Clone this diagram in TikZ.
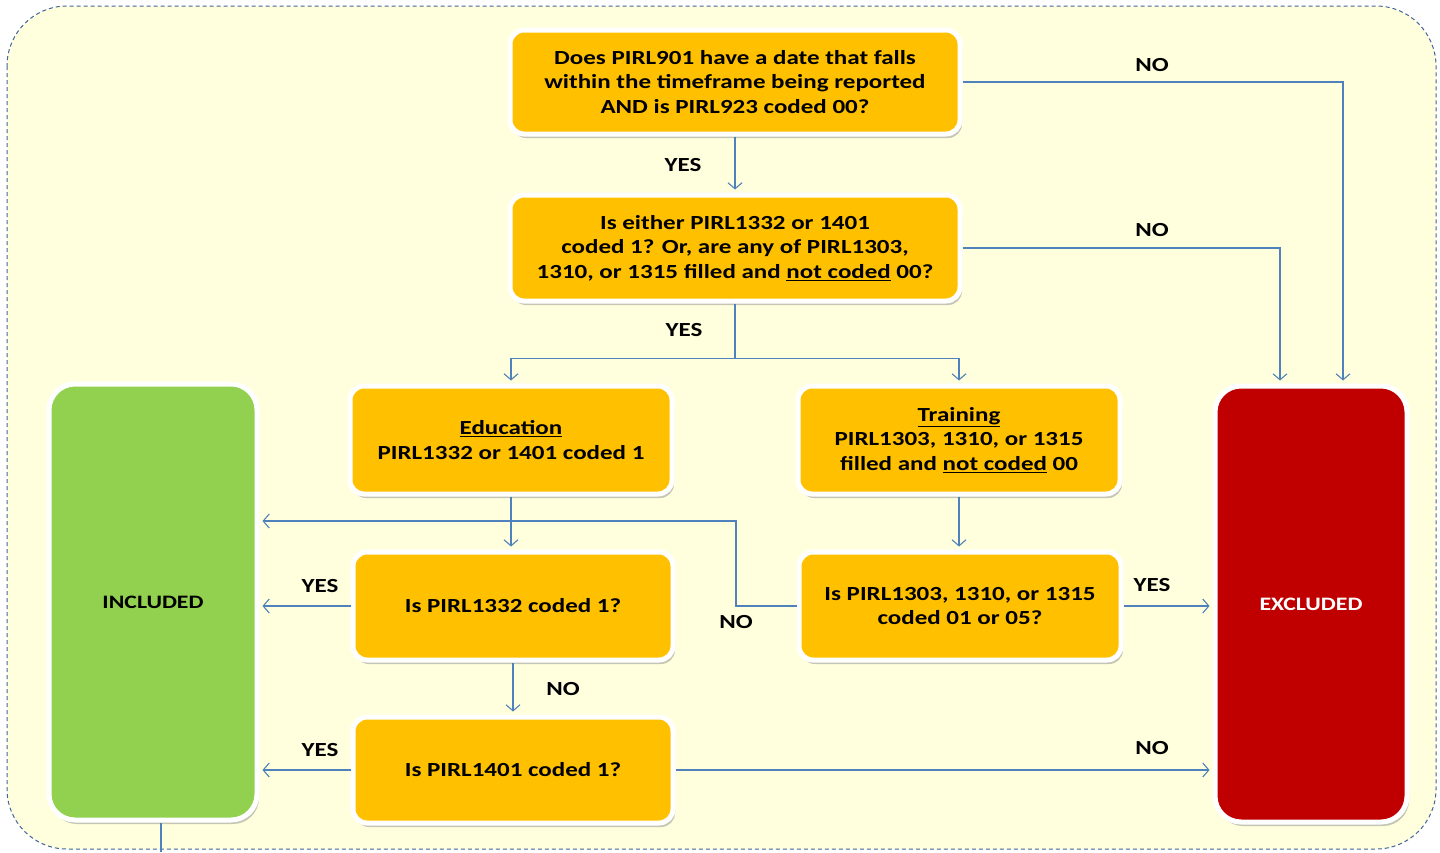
\documentclass[tikz,border=0pt]{standalone}
\usepackage{fontspec}
\setmainfont{Carlito}[FakeStretch=1.25]
\usetikzlibrary{arrows.meta,shadows}
\definecolor{bgyellow}{HTML}{FFFFDD}
\definecolor{frameblue}{HTML}{41649B}
\definecolor{flowblue}{HTML}{4F81BD}
\definecolor{qorange}{HTML}{FFC000}
\definecolor{incgreen}{HTML}{92D050}
\definecolor{excred}{HTML}{C00000}
\begin{document}
\begin{tikzpicture}[x=1pt, y=-1pt,
  qbox/.style={draw=white, line width=5pt, fill=qorange, rounded corners=14pt,
    inner sep=0pt, align=center, font=\bfseries\fontsize{20}{24.5}\selectfont,
    drop shadow={opacity=0.45, shadow xshift=2pt, shadow yshift=-4pt}},
  endbox/.style={qbox, rounded corners=26pt, minimum width=#1,
    font=\bfseries\fontsize{19}{22}\selectfont},
  flow/.style={draw=flowblue, line width=1.1pt, shorten >=3pt,
    -{Straight Barb[length=6pt, width=14pt]}},
  lbl/.style={font=\bfseries\fontsize{20}{22}\selectfont}]
\useasboundingbox (0,0) rectangle (1440,852);
\draw[frameblue, fill=bgyellow, line width=1pt, dash pattern=on 4pt off 3pt,
      rounded corners=60pt] (7,6) rectangle (1436,849);
% questions
\path (735,82) node[qbox, minimum width=450pt, minimum height=104pt] (q1)
        {Does PIRL901 have a date that falls\\within the timeframe being reported\\AND is PIRL923 coded 00?}
      (735,248) node[qbox, minimum width=450pt, minimum height=106pt] (q2)
        {Is either PIRL1332 or 1401\\coded 1? Or, are any of PIRL1303,\\1310, or 1315 filled and \underline{not coded} 00?}
      (511,440) node[qbox, minimum width=322pt, minimum height=108pt] (edu)
        {\underline{Education}\\PIRL1332 or 1401 coded 1}
      (959,440) node[qbox, minimum width=322pt, minimum height=108pt] (train)
        {\underline{Training}\\PIRL1303, 1310, or 1315\\filled and \underline{not coded} 00}
      (513,606) node[qbox, minimum width=320pt, minimum height=108pt] (q3)
        {Is PIRL1332 coded 1?}
      (960,606) node[qbox, minimum width=322pt, minimum height=108pt] (q4)
        {Is PIRL1303, 1310, or 1315\\coded 01 or 05?}
      (513,770) node[qbox, minimum width=320pt, minimum height=106pt] (q5)
        {Is PIRL1401 coded 1?};
% outcomes
\path (153,602) node[endbox=208pt, fill=incgreen, minimum height=436pt] (inc) {INCLUDED}
      (1311,604) node[endbox=192pt, fill=excred, text=white, minimum height=436pt] (exc) {EXCLUDED};
\coordinate (nojoin) at (736,521);
\coordinate (incend) at (161,852);
\draw[flow] (q1.south) -- (q2.north);
\draw[flow] (q1.east) -| ([xshift=32pt]exc.north);
\draw[flow] (q2.east) -| ([xshift=-31pt]exc.north);
\draw[flow] (q2.south) -- ++(0,55) -| (edu.north);
\draw[flow] (q2.south) -- ++(0,55) -| (train.north);
\draw[flow] (edu.south) -- (edu.south |- q3.north);
\draw[flow] (train.south) -- (train.south |- q4.north);
\draw[flow] (q3.west) -- (q3.west -| inc.east);
\draw[flow] (q4.west) -| (nojoin) -- (nojoin -| inc.east);
\draw[flow] (q4.east) -- (q4.east -| exc.west);
\draw[flow] (q3.south) -- (q3.south |- q5.north);
\draw[flow] (q5.west) -- (q5.west -| inc.east);
\draw[flow] (q5.east) -- (q5.east -| exc.west);
\draw[flowblue, line width=1.1pt] (inc.south -| incend) -- (incend);
% labels
\path (683,165) node[lbl] (y1) {YES}
      (1152,65) node[lbl] (n1) {NO}
      (1152,230) node[lbl] (n2) {NO}
      (684,330) node[lbl] (y2) {YES}
      (320,586) node[lbl] (y3) {YES}
      (736,622) node[lbl] (n3) {NO}
      (1152,585) node[lbl] (y4) {YES}
      (563,689) node[lbl] (n4) {NO}
      (320,750) node[lbl] (y5) {YES}
      (1152,748) node[lbl] (n5) {NO};
\end{tikzpicture}
\end{document}
